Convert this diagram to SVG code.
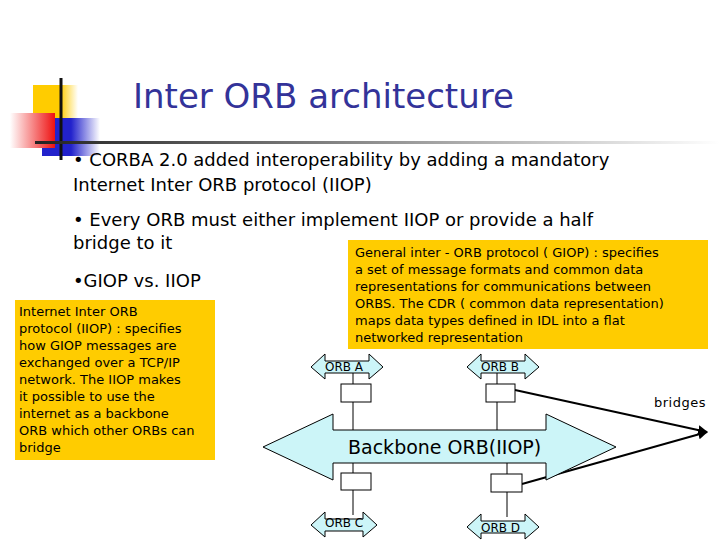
<svg xmlns="http://www.w3.org/2000/svg" width="720" height="540" viewBox="0 0 720 540">
<defs>
<linearGradient id="rg" x1="0" y1="0" x2="1" y2="0"><stop offset="0" stop-color="#ffffff"/><stop offset="1" stop-color="#ee1111"/></linearGradient>
<linearGradient id="bg" x1="0" y1="0" x2="1" y2="0"><stop offset="0.5" stop-color="#2222cc"/><stop offset="1" stop-color="#ffffff"/></linearGradient>
<linearGradient id="yg" x1="0" y1="0" x2="1" y2="0"><stop offset="0.6" stop-color="#ffcc00"/><stop offset="1" stop-color="#ffffff"/></linearGradient>
<linearGradient id="lg" x1="0" y1="0" x2="1" y2="0"><stop offset="0" stop-color="#222222"/><stop offset="1" stop-color="#ffffff"/></linearGradient>
<marker id="ah" markerWidth="10" markerHeight="10" refX="9" refY="5" orient="auto" markerUnits="userSpaceOnUse"><path d="M0,0 L10,5 L0,10 Z" fill="#000"/></marker>
</defs>
<style>
.t{font-family:"DejaVu Sans",Verdana,sans-serif;fill:#000}
.b{font-size:18px}
.s{font-size:13px}
.n{fill:#ccf5f8;stroke:#000;stroke-width:1}
.bx{fill:#fff;stroke:#000;stroke-width:1}
.ln{stroke:#000;stroke-width:1}
.br{stroke:#000;stroke-width:2;fill:none}
</style>
<rect width="720" height="540" fill="#fff"/>
<g id="logo">
<rect x="33" y="85" width="45" height="38" fill="url(#yg)"/>
<rect x="42" y="118" width="58" height="38" fill="url(#bg)"/>
<rect x="10" y="113" width="45" height="35" fill="url(#rg)"/>
<line x1="61" y1="78" x2="61" y2="160" stroke="#111" stroke-width="3"/>
<rect x="35" y="141" width="685" height="3" fill="url(#lg)"/>
</g>
<text class="t" x="133" y="108" font-size="34" fill="#333399" style="fill:#333399">Inter ORB architecture</text>
<text class="t b" x="73" y="166">• CORBA 2.0 added interoperability by adding a mandatory</text>
<text class="t b" x="73" y="191">Internet Inter ORB protocol (IIOP)</text>
<text class="t b" x="73" y="226">• Every ORB must either implement IIOP or provide a half</text>
<text class="t b" x="73" y="249">bridge to it</text>
<text class="t b" x="73" y="287">•GIOP vs. IIOP</text>
<g id="giop">
<rect x="348" y="240" width="360" height="109" fill="#ffcc00"/>
<text class="t s" x="355" y="257">General inter - ORB protocol ( GIOP) : specifies</text>
<text class="t s" x="355" y="274">a set of message formats and common data</text>
<text class="t s" x="355" y="291">representations for communications between</text>
<text class="t s" x="355" y="308">ORBS. The CDR ( common data representation)</text>
<text class="t s" x="355" y="325">maps data types defined in IDL into a flat</text>
<text class="t s" x="355" y="342">networked representation</text>
</g>
<g id="iiop">
<rect x="15" y="300" width="200" height="160" fill="#ffcc00"/>
<text class="t s" x="19" y="316">Internet Inter ORB</text>
<text class="t s" x="19" y="333">protocol (IIOP) : specifies</text>
<text class="t s" x="19" y="350">how GIOP messages are</text>
<text class="t s" x="19" y="367">exchanged over a TCP/IP</text>
<text class="t s" x="19" y="384">network. The IIOP makes</text>
<text class="t s" x="19" y="401">it possible to use the</text>
<text class="t s" x="19" y="418">internet as a backbone</text>
<text class="t s" x="19" y="435">ORB which other ORBs can</text>
<text class="t s" x="19" y="452">bridge</text>
</g>
<g id="connectors">
<line class="ln" x1="353" y1="373" x2="353" y2="430"/>
<line class="ln" x1="497" y1="373" x2="497" y2="430"/>
<line class="ln" x1="353" y1="463" x2="353" y2="515"/>
<line class="ln" x1="507" y1="463" x2="507" y2="517"/>
<line class="br" x1="515" y1="390" x2="707" y2="432" marker-end="url(#ah)"/>
<line class="br" x1="522" y1="484" x2="707" y2="432" marker-end="url(#ah)"/>
</g>
<g id="backbone">
<path class="n" d="M263,447 L333,414 L333,430 L546,430 L546,414 L616,447 L546,480 L546,463 L333,463 L333,480 Z"/>
<text class="t" x="348" y="454" font-size="19">Backbone ORB(IIOP)</text>
</g>
<g id="orbA">
<path class="n" d="M311,367 L325,354 L325,361 L369,361 L369,354 L383,367 L369,379 L369,373 L325,373 L325,379 Z"/>
<text class="t" x="325" y="371" font-size="12">ORB A</text>
</g>
<g id="orbB">
<path class="n" d="M467,367 L481,354 L481,361 L525,361 L525,354 L539,367 L525,379 L525,373 L481,373 L481,379 Z"/>
<text class="t" x="481" y="371" font-size="12">ORB B</text>
</g>
<g id="orbC">
<path class="n" d="M311,525 L325,512 L325,519 L363,519 L363,512 L377,525 L363,537 L363,531 L325,531 L325,537 Z"/>
<text class="t" x="325" y="527" font-size="12">ORB C</text>
</g>
<g id="orbD">
<path class="n" d="M467,527 L481,514 L481,521 L525,521 L525,514 L539,527 L525,539 L525,533 L481,533 L481,539 Z"/>
<text class="t" x="481" y="532" font-size="12">ORB D</text>
</g>
<g id="boxA"><rect class="bx" x="341" y="384" width="30" height="18"/></g>
<g id="boxB"><rect class="bx" x="486" y="384" width="29" height="18"/></g>
<g id="boxC"><rect class="bx" x="341" y="473" width="30" height="17"/></g>
<g id="boxD"><rect class="bx" x="491" y="474" width="31" height="18"/></g>
<text class="t" x="654" y="407" font-size="13" letter-spacing="0.5">bridges</text>
</svg>
